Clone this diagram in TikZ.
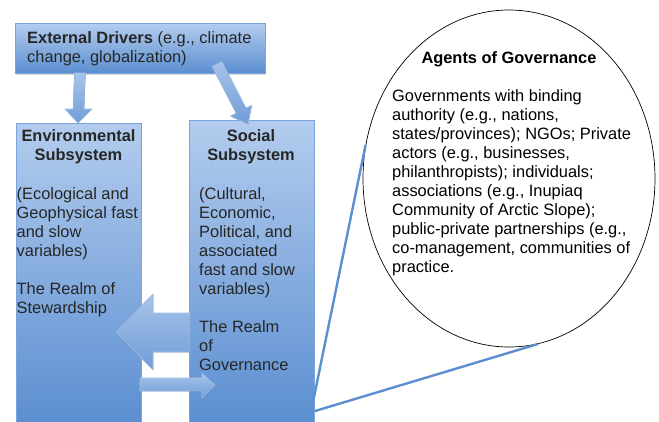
\documentclass[tikz,border=0pt]{standalone}
\usepackage{fontspec}
\setmainfont{Liberation Sans}
\usetikzlibrary{shapes.geometric,shadows}
\definecolor{boxtop}{HTML}{B3CCEE}
\definecolor{boxbot}{HTML}{5A8ED0}
\definecolor{boxline}{HTML}{7BA4DA}
\definecolor{arrtop}{HTML}{A8C4EA}
\definecolor{arrbot}{HTML}{6F9DD8}
\definecolor{inktxt}{HTML}{262626}
\definecolor{callout}{HTML}{5B8FD1}
\begin{document}
\begin{tikzpicture}[
   x=1pt,y=-1pt,
   sys/.style={draw=boxline,line width=0.8pt,top color=boxtop,bottom color=boxbot,
     inner sep=0pt,anchor=north west},
   blk/.style={draw=boxline!70!white,line width=0.6pt,top color=arrtop,bottom color=arrbot},
   txt/.style={inner sep=0pt,anchor=north west,align=left,text=inktxt},
   hd/.style={inner sep=0pt,anchor=north,align=center,text=inktxt,
     font=\bfseries\fontsize{16.4}{19.1}\selectfont},
   every node/.style={font=\fontsize{16.4}{19.1}\selectfont}
 ]
  \clip (0,0) rectangle (659,421);
  \fill[white] (0,0) rectangle (659,421);

  % the three boxes
  \node[sys,minimum width=250pt,minimum height=50pt,
    drop shadow={opacity=0.25,shadow xshift=1pt,shadow yshift=-2pt}] (drv) at (15,23) {};
  \node[sys,minimum width=125pt,minimum height=302pt] (env) at (16,123) {};
  \node[sys,minimum width=125pt,minimum height=305pt] (soc) at (189,120) {};

  % block arrows
  \filldraw[blk] (74.5,73) -- (73,109) -- (65,109) -- (78,123) -- (92,109) -- (84,109) -- (85.5,73) -- cycle;
  \filldraw[blk] (221.9,61.5) -- (246.0,108.2) -- (251.8,105.2) -- (248,124) -- (230.4,116.2) -- (236.2,113.2) -- (212.1,66.5) -- cycle;
  \filldraw[blk] (190,313) -- (153,313) -- (153,294) -- (116,332) -- (153,370) -- (153,352) -- (190,352) -- cycle;
  \filldraw[blk] (140,378) -- (202,378) -- (202,373) -- (215,385) -- (202,398) -- (202,391) -- (140,391) -- cycle;

  % callout bubble
  \node[ellipse,draw=black,line width=0.7pt,minimum width=292pt,minimum height=337pt,inner sep=0pt] (agents) at (509,178.5) {};
  \coordinate (cA) at (313,402);
  \coordinate (cB) at (315,411);
  \draw[callout,line width=2.4pt] (cA) -- (agents.167);
  \draw[callout,line width=2.4pt] (cB) -- (agents.-80);

  % texts
  \node[txt] (drvtxt) at (27,31) {\textbf{External Drivers} (e.g., climate\\change, globalization)};
  \node[hd] (envhd) at (78.5,129) {Environmental\\Subsystem};
  \node[txt] (envtxt) at (16.5,187) {(Ecological and\\Geophysical fast\\and slow\\variables)\\[19.1pt]The Realm of\\Stewardship};
  \node[hd] (sochd) at (251,129) {Social\\Subsystem};
  \node[txt] (soctxt) at (199,187) {(Cultural,\\Economic,\\Political, and\\associated\\fast and slow\\variables)\\[19.1pt]The Realm\\of\\Governance};
  \node[hd,text=black] (agthd) at (509,51) {Agents of Governance};
  \node[txt,text=black] (agttxt) at (392,89) {Governments with binding\\authority (e.g., nations,\\states/provinces); NGOs; Private\\actors (e.g., businesses,\\philanthropists); individuals;\\associations (e.g., Inupiaq\\Community of Arctic Slope);\\public-private partnerships (e.g.,\\co-management, communities of\\practice.};
\end{tikzpicture}
\end{document}
